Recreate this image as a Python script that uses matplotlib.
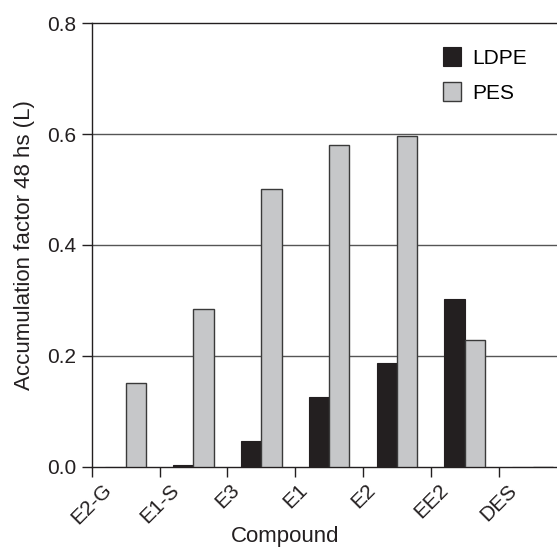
import numpy as np
import matplotlib.pyplot as plt

plt.rcParams['font.family'] = ['Liberation Sans', 'DejaVu Sans']

compounds = ["E2-G", "E1-S", "E3", "E1", "E2", "EE2", "DES"]
ldpe = [0.0, 0.003, 0.046, 0.125, 0.187, 0.303, 0.0]
pes = [0.151, 0.285, 0.501, 0.580, 0.597, 0.229, 0.0]

fig = plt.figure(figsize=(5.57, 5.47), dpi=100)
ax = fig.add_axes([91.7 / 557, (547 - 466.7) / 547, (557 - 91.7) / 557, (466.7 - 23.3) / 547])

x = np.arange(len(compounds))
w = 0.3
ax.bar(x + 0.5 - w / 2, ldpe, w, color='#231f20', edgecolor='#231f20', linewidth=0.8, label='LDPE', zorder=3)
ax.bar(x + 0.5 + w / 2, pes, w, color='#c6c7c9', edgecolor='#3a3a3a', linewidth=1.0, label='PES', zorder=3)

for yv in [0.2, 0.4, 0.6]:
    ax.axhline(yv, color='#555555', linewidth=1.0, zorder=1)

ax.set_xlim(0, 6.86)
ax.set_ylim(0, 0.8)
ax.set_yticks([0.0, 0.2, 0.4, 0.6, 0.8])
ax.set_yticklabels(['0.0', '0.2', '0.4', '0.6', '0.8'])
ax.set_xticks(x)
ax.set_xticklabels(compounds, rotation=45, ha='center')

ax.spines['right'].set_visible(False)
for s in ['left', 'bottom', 'top']:
    ax.spines[s].set_color('#231f20')
    ax.spines[s].set_linewidth(1.0)

ax.tick_params(axis='both', labelsize=15, colors='#231f20', length=7, width=1.0)
ax.tick_params(axis='x', pad=3)
ax.tick_params(axis='y', pad=4)

ax.set_ylabel('Accumulation factor 48 hs (L)', fontsize=16, color='#231f20')
ax.set_xlabel('Compound', fontsize=16, color='#231f20')
ax.yaxis.set_label_coords(-0.122, 0.5)
ax.xaxis.set_label_coords(0.415, -0.134)

leg = ax.legend(loc='upper left', bbox_to_anchor=(0.728, 0.974), frameon=False, fontsize=15,
                handlelength=0.85, handleheight=1.0, handletextpad=0.55, labelspacing=0.7,
                borderaxespad=0.2)

fig.savefig('out.png', dpi=100)
